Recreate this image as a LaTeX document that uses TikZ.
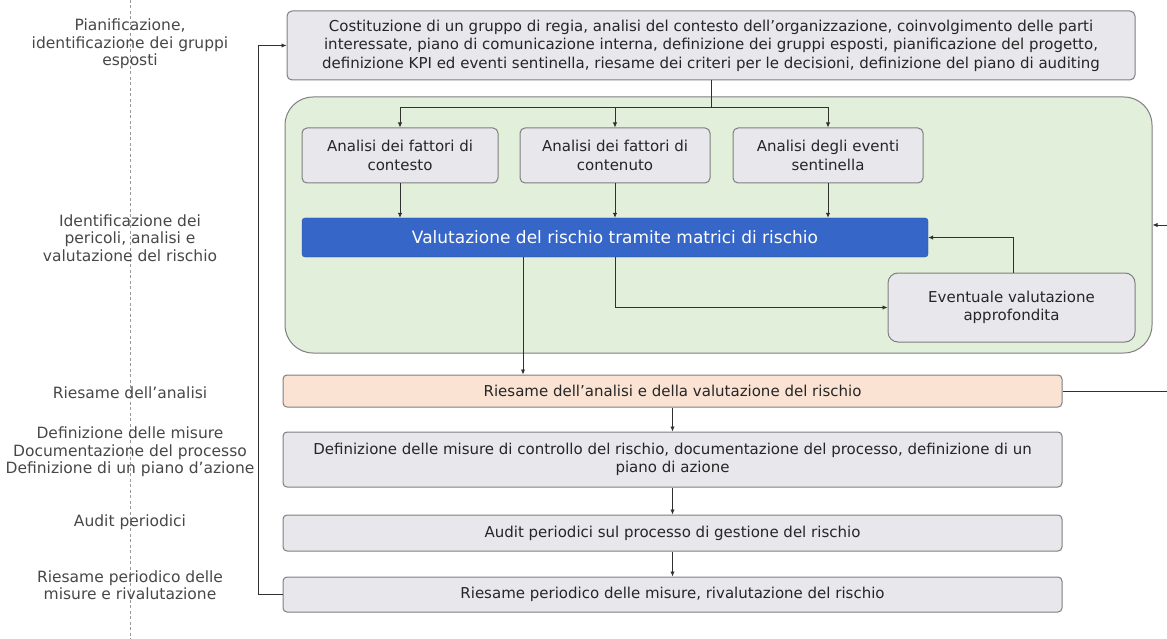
\documentclass[tikz,border=0pt]{standalone}
\usepackage{fontspec}
\setmainfont{DejaVu Sans}
\usepackage{xcolor}
\usepackage{tikz}
\usetikzlibrary{arrows.meta,calc}
\definecolor{cLine}{HTML}{7F7F7F}
\definecolor{cGrey}{HTML}{E7E7EC}
\definecolor{cGreen}{HTML}{E2EFDA}
\definecolor{cBlue}{HTML}{3566C8}
\definecolor{cPeach}{HTML}{FBE3D3}
\definecolor{cText}{HTML}{262626}
\definecolor{cArrow}{HTML}{303030}
\tikzset{
  greybox/.style={draw=cLine,fill=cGrey,line width=1pt,rounded corners=5pt,align=center,inner sep=2pt,text=cText,font=\fontsize{15}{18.5}\selectfont},
  flow/.style={draw=cArrow,line width=0.9pt,-{Latex[length=5pt,width=4.5pt]}},
  plain/.style={draw=cArrow,line width=0.9pt},
  phase/.style={align=center,text=cText!85,font=\fontsize{15.5}{17.5}\selectfont}
}

\begin{document}
\begin{tikzpicture}[x=1pt,y=-1pt]
  \useasboundingbox (0,0) rectangle (1167,639);
  % phases on the left
  \draw[cLine!80,line width=0.8pt,dash pattern=on 3pt off 2.5pt] (130,0) -- (130,639);
  \node[phase] (lab1) at (130,44) {Pianificazione,\\identificazione dei gruppi\\esposti};
  \node[phase] (lab2) at (130,238) {Identificazione dei\\pericoli, analisi e\\valutazione del rischio};
  \node[phase] (lab3) at (130,393) {Riesame dell'analisi};
  \node[phase] (lab4) at (130,452) {Definizione delle misure\\Documentazione del processo\\Definizione di un piano d'azione};
  \node[phase] (lab5) at (130,522) {Audit periodici};
  \node[phase] (lab6) at (130,585) {Riesame periodico delle\\misure e rivalutazione};
  % planning
  \node[greybox,minimum width=848pt,minimum height=69pt] (plan) at (711,45.5)
    {Costituzione di un gruppo di regia, analisi del contesto dell'organizzazione, coinvolgimento delle parti\\
     interessate, piano di comunicazione interna, definizione dei gruppi esposti, pianificazione del progetto,\\
     definizione KPI ed eventi sentinella, riesame dei criteri per le decisioni, definizione del piano di auditing};
  % assessment block
  \node[draw=cLine,fill=cGreen,line width=1pt,rounded corners=28pt,minimum width=867pt,minimum height=256pt] (assess) at (718.5,225) {};
  \node[greybox,minimum width=196pt,minimum height=55pt] (ctx) at (400,155.5) {Analisi dei fattori di\\contesto};
  \node[greybox,minimum width=190pt,minimum height=55pt] (cnt) at (615,155.5) {Analisi dei fattori di\\contenuto};
  \node[greybox,minimum width=190pt,minimum height=55pt] (sent) at (828,155.5) {Analisi degli eventi\\sentinella};
  \node[draw=cBlue!80!black,fill=cBlue,rounded corners=3pt,minimum width=626pt,minimum height=39pt,text=white,font=\fontsize{17}{19}\selectfont] (val) at (615,237.5)
    {Valutazione del rischio tramite matrici di rischio};
  \node[greybox,rounded corners=10pt,minimum width=247pt,minimum height=69pt] (deep) at (1011.5,307.5) {Eventuale valutazione\\approfondita};
  % review and follow-up
  \node[greybox,fill=cPeach,rounded corners=4pt,minimum width=779pt,minimum height=32pt] (rev) at (672.5,391) {Riesame dell'analisi e della valutazione del rischio};
  \node[greybox,rounded corners=4pt,minimum width=779pt,minimum height=55pt] (meas) at (672.5,459.5)
    {Definizione delle misure di controllo del rischio, documentazione del processo, definizione di un\\piano di azione};
  \node[greybox,rounded corners=4pt,minimum width=779pt,minimum height=36pt] (audit) at (672.5,533) {Audit periodici sul processo di gestione del rischio};
  \node[greybox,rounded corners=4pt,minimum width=779pt,minimum height=35pt] (rerun) at (672.5,594.5) {Riesame periodico delle misure, rivalutazione del rischio};
  % connectors
  \coordinate (split) at (711,107);
  \draw[plain] (plan.south) -- (split);
  \foreach \n in {ctx,cnt,sent} {
    \draw[flow] (split) -| (\n.north);
    \draw[flow] (\n.south) -- (\n.south |- val.north);
  }
  \draw[flow] (val.south) |- (deep.west);
  \draw[flow] ([xshift=1.5pt]deep.north) |- (val.east);
  \draw[flow] ([xshift=-92pt]val.south) -- ([xshift=-92pt]val.south |- rev.north);
  \draw[flow] (rev) -- (meas);
  \draw[flow] (meas) -- (audit);
  \draw[flow] (audit) -- (rerun);
  \draw[flow] (rerun.west) -- ++(-24,0) |- (plan.west);
  \draw[flow] (rev.east) -- ++(115,0) |- (assess.east);
\end{tikzpicture}
\end{document}
